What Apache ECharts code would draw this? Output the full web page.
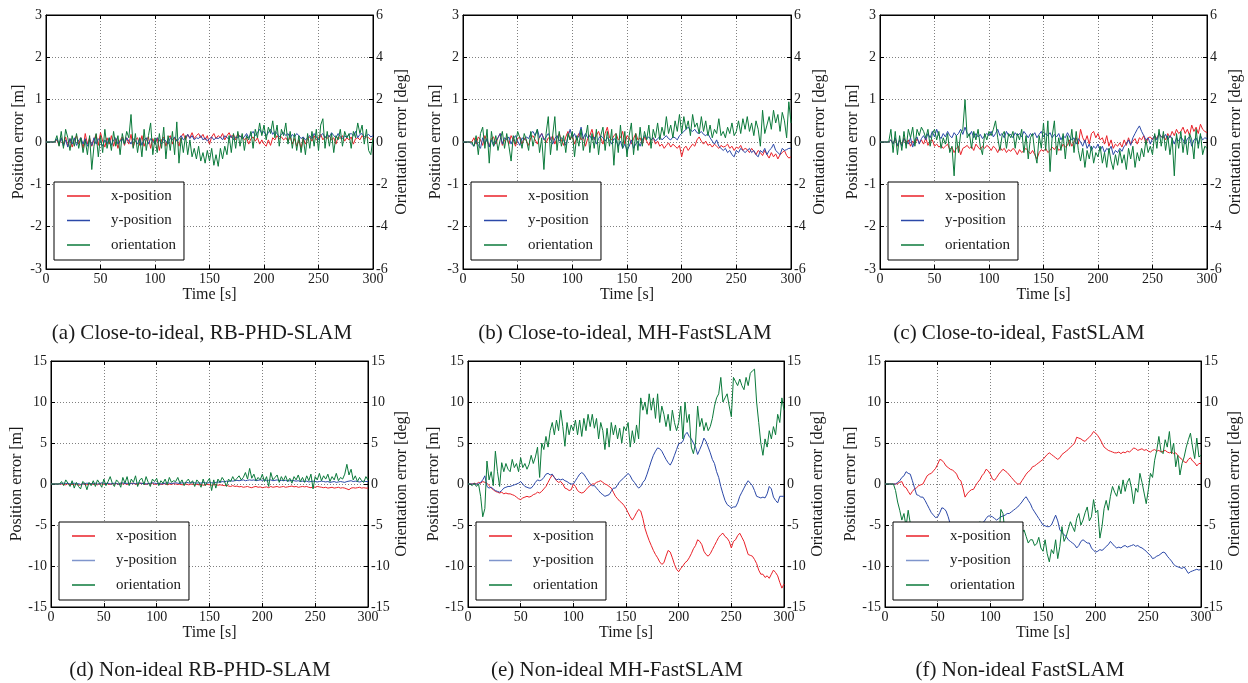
<!DOCTYPE html>
<html><head><meta charset="utf-8">
<script src="https://cdn.jsdelivr.net/npm/echarts@6/dist/echarts.min.js"></script>
<style>html,body{margin:0;padding:0;background:#fff}#c{width:1248px;height:683px}</style>
</head><body><div id="c"></div><script>
// ---- data (sampled every 2 s, t = 0..300) ----
const timeStep = 2;
const seriesNames = ['x-position', 'y-position', 'orientation'];
const captions = [
  '(a) Close-to-ideal, RB-PHD-SLAM',
  '(b) Close-to-ideal, MH-FastSLAM',
  '(c) Close-to-ideal, FastSLAM',
  '(d) Non-ideal RB-PHD-SLAM',
  '(e) Non-ideal MH-FastSLAM',
  '(f) Non-ideal FastSLAM'
];
const xLabelName = 'Time [s]';
const leftName = 'Position error [m]';
const rightName = 'Orientation error [deg]';

// (a) Close-to-ideal RB-PHD-SLAM
const aX = [0,0,0,0,0,0.05,-0.08,0.1,-0.05,0.12,
-0.1,0.08,-0.12,0.05,0.15,-0.05,0.1,-0.15,0.2,-0.05,
0.1,-0.1,0.05,0.18,-0.08,0.22,0.02,-0.12,0.1,-0.05,
0.15,-0.1,0.08,-0.15,0.05,0.12,-0.08,0.1,-0.05,0.18,
-0.12,0.05,0.1,-0.08,0.15,-0.1,0.05,0.12,-0.15,0.08,
-0.05,0.1,-0.2,0.05,0.12,-0.1,0.08,0.15,-0.05,0.1,
0.05,-0.1,0.12,0.2,0.05,0.18,0.1,0.22,0.08,0.15,
0.2,0.1,0.18,0.05,0.15,-0.05,0.12,0.2,0.08,0.15,
0.1,0.2,0.05,0.15,0.22,0.1,0.18,0.05,0.2,0.12,
0.15,0.05,0.1,-0.05,0.08,0.12,0.02,0.1,-0.05,0.05,
-0.05,-0.1,0.05,-0.08,0.1,0.05,0.15,0.08,0.12,0.05,
0.1,0.02,0.12,-0.05,0.08,-0.1,0.05,-0.15,0.1,-0.05,
0.08,0.12,0.02,0.15,0.05,0.1,0.18,0.05,0.12,0.08,
0.15,0.05,0.1,-0.05,0.12,0.08,0.15,0.02,0.1,0.05,
0.12,-0.05,0.08,0.1,0.05,0.15,0.08,0.12,0.1,0.05,
0.1];
const aY = [0,0,0,0,0,0.08,-0.05,0.1,-0.1,0.05,
-0.12,0.08,-0.05,0.1,-0.08,0.05,0.1,-0.05,0.08,-0.1,
0.05,-0.08,0.1,-0.05,0.08,0.02,-0.1,0.05,-0.05,0.1,
-0.08,0.05,0.1,-0.05,0.02,0.08,-0.05,0.1,0.02,-0.05,
0.08,0.02,-0.05,0.1,-0.08,0.05,0.1,-0.05,0.08,0.02,
-0.05,0.1,0.05,-0.05,0.08,0.02,-0.05,0.1,0.05,0.12,
0.02,0.08,0.15,0.05,0.1,0.18,0.08,0.15,0.05,0.1,
0.08,0.15,0.05,0.1,0.02,0.08,0.12,0.05,0.1,0.08,
0.12,0.05,0.15,0.1,0.08,0.15,0.05,0.12,0.1,0.15,
0.08,0.12,0.2,0.1,0.18,0.25,0.15,0.22,0.3,0.2,
0.25,0.15,0.22,0.3,0.18,0.25,0.2,0.12,0.18,0.22,
0.15,0.2,0.1,0.18,0.12,0.2,0.15,0.08,0.12,0.05,
0.1,0.15,0.08,0.2,0.12,0.05,0.15,0.2,0.1,0.18,
0.12,0.22,0.15,0.1,0.2,0.12,0.08,0.15,0.1,0.18,
0.2,0.15,0.25,0.1,0.18,0.2,0.12,0.15,0.18,0.12,
0.15];
const aO = [0,0,0,0,0,0.3,-0.2,0.5,-0.3,0.6,
0.2,-0.4,0.3,-0.2,0.4,-0.3,0.2,-0.5,0.1,-0.6,
0.3,-1.3,-0.2,0.4,-0.7,0.3,-0.5,0.6,-0.3,0.2,
-0.4,0.5,-0.2,0.3,-0.6,0.4,-0.1,0.5,0.2,1.3,
-0.3,0.4,-0.5,0.2,-0.7,0.6,-0.4,0.3,0.9,-0.6,
0.2,-0.5,0.4,-0.3,0.7,-0.8,0.3,-0.4,0.5,-0.6,
0.95,-1.0,0.2,-0.5,0.3,-0.6,0.1,-0.7,-0.3,-0.8,
-0.2,-0.9,-0.5,-1.0,-0.4,-0.9,-0.3,-1.1,-0.6,-1.15,
-0.3,-0.8,-0.2,-0.6,0.3,-0.5,0.4,-0.3,0.5,-0.2,
0.4,-0.4,0.3,0.1,0.5,-0.3,0.6,0.2,0.9,0.3,
0.8,0.1,0.7,0.4,1.0,0.2,0.8,-0.2,0.6,0.3,
0.9,-0.1,0.5,-0.3,0.4,-0.4,0.3,-0.5,0.2,-0.6,
0.4,-0.3,0.5,-0.2,0.6,-0.4,0.8,1.1,-0.3,0.5,
-0.2,0.4,-0.5,0.3,0.1,0.6,-0.2,0.5,0.2,0.4,
-0.3,0.5,0.2,0.9,0.4,0.8,-0.1,0.6,-0.4,-0.6,
0.2];

// (b) Close-to-ideal MH-FastSLAM
const bX = [0,0,0,0,0,0.1,-0.05,0.12,0.05,-0.08,
0.15,0.02,-0.1,0.08,0.12,-0.05,0.1,0.2,-0.08,0.05,
0.1,-0.05,0.15,0.05,-0.1,0.08,0.12,-0.05,0.1,0.02,
-0.08,0.1,0.15,0.05,-0.05,0.12,0.2,0.08,-0.02,0.1,
0.05,0.15,-0.05,0.1,0.2,0.05,-0.08,0.12,0.25,0.05,
0.15,-0.05,0.1,0.2,0.05,0.12,-0.1,0.08,0.15,0.3,
0.05,0.15,0.25,0.1,-0.05,0.2,0.35,0.1,0.05,0.15,
0.2,0.05,0.1,0.25,-0.05,0.15,0.1,-0.05,0.08,0.2,
0.05,0.1,-0.05,0.12,0.02,-0.08,0.05,0.1,-0.05,0.02,
-0.1,-0.05,-0.15,-0.08,-0.02,-0.12,-0.05,-0.1,-0.15,-0.08,
-0.35,-0.15,-0.1,-0.2,-0.12,-0.05,-0.1,0.05,0.12,0.02,
-0.05,0.02,-0.08,-0.05,-0.12,-0.05,-0.1,-0.15,-0.08,-0.12,
-0.1,-0.05,-0.15,-0.1,-0.2,-0.12,-0.15,-0.08,-0.2,-0.15,
-0.18,-0.25,-0.15,-0.22,-0.3,-0.2,-0.25,-0.32,-0.2,-0.3,
-0.38,-0.25,-0.35,-0.28,-0.4,-0.3,-0.25,-0.2,-0.32,-0.38,
-0.35];
const bY = [0,0,0,0,-0.05,-0.1,0.05,-0.08,-0.15,0.1,
-0.05,0.08,-0.12,0.05,-0.1,0.02,0.1,0.2,-0.05,0.1,
0.05,0.12,-0.05,0.08,0.15,0.02,-0.08,0.1,0.05,0.12,
0.08,0.2,0.25,0.15,0.3,0.1,0.2,0.05,0.12,0.2,
0.1,-0.05,0.08,0.15,0.02,0.1,0.05,-0.08,0.12,0.3,
0.1,0.2,0.05,0.15,0.35,0.08,0.2,0.1,0.15,0.05,
0.12,-0.05,0.08,0.15,0.1,0.02,0.1,0.05,-0.05,0.08,
0.05,-0.1,0.02,-0.15,-0.05,-0.2,-0.1,0.05,-0.15,-0.05,
0.02,-0.1,0.05,0.15,0.08,0.12,0.05,0.1,0.02,0.08,
0.12,0.05,0.1,0.15,0.08,0.05,0.12,0.1,0.05,0.15,
0.2,0.25,0.3,0.35,0.28,0.25,0.3,0.22,0.2,0.25,
0.18,0.15,0.2,0.1,0.02,-0.05,0.05,-0.1,-0.15,-0.2,
-0.15,-0.25,-0.2,-0.3,-0.35,-0.2,-0.25,-0.15,-0.2,-0.25,
-0.2,-0.15,-0.25,-0.2,-0.3,-0.35,-0.2,-0.25,-0.15,-0.3,
-0.2,-0.15,-0.05,-0.2,-0.25,-0.3,-0.15,-0.2,-0.18,-0.15,
-0.15];
const bO = [0,0,0,0,0,-0.2,0.3,-0.6,0.4,0.7,
-0.3,0.6,-1.0,0.5,-0.2,0.3,-0.4,0.1,0.5,-0.3,
0.4,-0.2,-0.9,0.3,-0.1,0.5,0.2,-0.3,0.4,0.1,
-0.4,0.5,-0.2,0.3,0.6,-0.5,0.2,-1.3,0.4,1.2,
-0.6,0.3,1.2,-0.4,0.5,-0.2,0.3,-0.5,0.4,0.1,
0.5,-0.7,0.3,-0.2,0.6,-0.4,0.2,0.8,-0.5,0.4,
-0.3,0.6,-0.6,0.3,0.7,-0.4,0.5,-0.2,0.6,-1.1,
0.4,-0.5,0.8,-0.3,0.5,-0.7,0.3,0.9,-0.6,0.4,
-0.4,0.7,-0.2,0.5,0.1,0.8,-0.3,0.6,0.2,0.9,
0.1,0.7,0.3,1.2,0.4,0.8,0.2,1.0,0.5,1.3,
0.4,1.2,0.6,1.0,0.3,1.3,0.7,0.9,0.4,1.2,
0.5,1.0,0.3,0.8,0.2,0.6,0.4,1.1,0.3,0.5,
0.2,0.7,0.4,0.9,0.3,0.5,1.0,0.4,1.1,0.6,
1.2,0.5,0.9,0.3,1.0,0.6,-0.2,1.5,0.4,0.8,
1.2,0.6,1.5,0.9,1.3,0.5,1.4,1.0,0.2,1.9,
0.9];

// (c) Close-to-ideal FastSLAM
const cX = [0,0,0,0,0,0.05,-0.05,0.08,-0.1,0.05,
-0.08,0.1,-0.05,0.05,-0.1,0.02,-0.05,0.08,-0.02,0.05,
-0.05,0.1,-0.08,0.02,0.05,-0.1,-0.05,-0.12,-0.08,-0.15,
-0.1,-0.05,-0.18,-0.12,-0.25,-0.15,-0.1,-0.3,-0.15,-0.12,
-0.08,-0.15,-0.1,-0.2,-0.05,-0.12,-0.18,-0.1,-0.15,-0.08,
-0.12,-0.2,-0.1,-0.15,-0.25,-0.12,-0.2,-0.15,-0.25,-0.18,
-0.22,-0.15,-0.2,-0.3,-0.18,-0.25,-0.2,-0.15,-0.22,-0.28,
-0.2,-0.3,-0.4,-0.25,-0.18,-0.22,-0.15,-0.25,-0.2,-0.12,
-0.18,-0.1,-0.2,-0.15,-0.05,-0.12,-0.08,0.05,-0.1,0.0,
0.1,-0.05,0.3,0.1,0.0,0.15,-0.05,0.2,0.25,0.1,
0.2,0.05,0.1,-0.05,0.15,-0.1,0.05,-0.15,-0.05,-0.1,
-0.02,-0.12,0.05,-0.08,0.1,-0.05,0.02,0.08,-0.05,0.1,
0.05,0.15,-0.05,0.1,0.12,0.05,0.15,0.08,0.2,0.12,
0.15,0.05,0.2,0.1,0.25,0.15,0.3,0.2,0.25,0.35,
0.2,0.3,0.15,0.4,0.25,0.35,0.2,0.42,0.3,0.25,
0.22];
const cY = [0,0,0,0,0,0.05,-0.05,0.1,-0.08,0.05,
-0.1,0.08,0.02,-0.05,0.1,-0.12,0.05,0.12,-0.05,0.08,
0.15,0.05,0.2,0.1,0.25,0.12,0.3,0.15,0.08,0.2,
0.12,0.25,0.15,0.1,0.22,0.15,0.2,0.3,0.18,0.35,
0.2,0.15,0.25,0.1,0.2,0.12,0.18,0.08,0.15,0.2,
0.15,0.25,0.12,0.2,0.3,0.15,0.2,0.1,0.25,0.15,
0.18,0.1,0.22,0.15,0.2,0.12,0.25,0.18,0.1,0.2,
0.15,0.22,0.1,0.18,0.25,0.12,0.2,0.15,0.22,0.1,
0.18,0.12,0.2,0.05,0.15,0.1,0.22,0.12,0.05,0.1,
-0.05,0.08,0.0,-0.1,0.05,-0.15,-0.05,-0.2,-0.1,-0.15,
-0.05,-0.2,-0.1,-0.25,-0.15,-0.2,-0.1,-0.3,-0.2,-0.25,
-0.15,-0.22,-0.1,-0.05,0.05,-0.08,0.1,0.2,0.3,0.38,
0.25,0.15,0.05,0.1,-0.05,0.08,0.15,0.05,0.2,0.12,
0.1,0.18,0.05,0.15,0.08,-0.05,0.1,0.02,0.12,0.05,
-0.05,0.08,0.12,-0.1,0.05,0.1,-0.05,0.15,0.05,0.1,
0.08];
const cO = [0,0,0,0,0,0.6,-0.5,0.5,-0.6,0.3,
-0.4,0.5,-0.3,0.6,0.2,0.7,-0.2,0.6,0.3,0.7,
0.5,0.2,0.6,-0.2,0.4,0.6,0.1,0.5,-0.3,0.2,
-0.1,0.4,-0.5,-0.2,-1.6,0.3,-0.5,0.4,0.6,2.0,
0.2,0.4,-0.3,0.5,0.1,0.6,-0.2,-0.6,0.4,0.1,
0.5,0.3,0.6,1.0,0.2,-0.4,0.3,0.5,-0.3,0.4,
0.2,0.5,-0.3,0.4,0.1,0.6,-0.5,0.3,-0.8,0.2,
0.4,-0.5,-1.0,0.3,-0.3,0.9,-0.4,1.0,-1.4,0.3,
1.0,-0.6,0.2,-0.4,0.4,-0.8,0.3,-0.2,0.6,-0.5,
0.5,-0.4,-0.9,-0.3,-1.2,-0.4,-0.8,-0.2,-1.0,-0.5,
-0.7,-0.2,-1.0,-0.5,-1.2,-0.3,-0.9,-1.3,-0.6,-1.1,
-0.4,-1.0,-0.6,-1.3,-0.3,-0.8,-0.2,-1.2,-0.5,-0.9,
-0.3,-0.7,0.1,-0.5,-0.2,-0.6,0.4,-0.3,0.6,-0.2,
0.5,-0.4,0.3,-0.6,0.2,-1.6,0.4,-0.3,0.5,-0.5,
0.3,-0.6,0.4,0.1,-0.8,0.6,-0.3,0.4,-0.6,-0.2,
-0.3];

// (d) Non-ideal RB-PHD-SLAM
const dX = [0,0,0,0,0,0,-0.05,-0.1,0.05,-0.1,
-0.05,-0.1,0.0,-0.15,-0.1,0.05,-0.05,-0.1,0.0,0.05,
-0.05,0.0,-0.1,0.05,0.0,-0.05,0.1,0.0,-0.05,0.05,
0.0,0.05,-0.05,0.1,0.0,0.05,-0.05,0.0,0.1,0.05,
0.0,-0.05,0.05,0.1,0.0,-0.05,0.05,0.0,0.1,-0.05,
0.0,0.05,-0.05,0.0,0.05,-0.1,0.0,-0.05,0.05,0.0,
-0.05,0.0,-0.1,-0.05,0.0,-0.1,-0.05,0.0,-0.1,-0.05,
-0.1,-0.05,-0.15,-0.1,-0.05,-0.1,-0.15,-0.1,-0.05,-0.15,
-0.1,-0.15,-0.2,-0.15,-0.25,-0.3,-0.2,-0.3,-0.25,-0.35,
-0.3,-0.4,-0.35,-0.3,-0.4,-0.45,-0.35,-0.3,-0.4,-0.35,
-0.45,-0.4,-0.35,-0.45,-0.3,-0.4,-0.35,-0.3,-0.4,-0.35,
-0.3,-0.4,-0.35,-0.3,-0.25,-0.35,-0.3,-0.4,-0.35,-0.3,
-0.35,-0.3,-0.4,-0.45,-0.35,-0.4,-0.3,-0.35,-0.4,-0.45,
-0.4,-0.5,-0.45,-0.4,-0.5,-0.45,-0.4,-0.5,-0.45,-0.5,
-0.6,-0.7,-0.5,-0.45,-0.5,-0.45,-0.4,-0.5,-0.45,-0.5,
-0.5];
const dY = [0,0,0,0,0,0.05,0.1,0.05,0.1,0.0,
0.05,0.1,0.0,0.05,-0.05,0.0,0.05,0.1,0.05,0.0,
0.05,0.1,0.0,0.05,0.15,0.1,0.05,0.1,0.0,0.05,
0.1,0.05,0.0,0.1,0.15,0.05,0.1,0.0,0.05,0.1,
0.05,0.1,0.15,0.05,0.1,0.0,0.05,0.1,0.15,0.1,
0.05,0.1,0.0,0.05,0.1,0.15,0.1,0.05,0.1,0.15,
0.1,0.05,0.15,0.1,0.2,0.15,0.1,0.2,0.15,0.1,
0.15,0.1,0.2,0.15,0.1,0.2,0.15,0.1,0.2,0.25,
0.2,0.3,0.25,0.35,0.3,0.4,0.35,0.4,0.45,0.4,
0.45,0.5,0.4,0.45,0.5,0.45,0.5,0.4,0.45,0.5,
0.45,0.5,0.4,0.45,0.5,0.4,0.45,0.5,0.4,0.45,
0.4,0.45,0.35,0.4,0.45,0.4,0.35,0.4,0.3,0.35,
0.3,0.35,0.25,0.3,0.35,0.3,0.25,0.3,0.35,0.3,
0.25,0.3,0.2,0.25,0.3,0.2,0.25,0.3,0.25,0.2,
0.3,0.35,0.4,0.3,0.35,0.3,0.25,0.3,0.35,0.3,
0.3];
const dO = [0,0,0,0,0,0.3,-0.2,0.5,0.1,-0.3,
0.4,-0.5,0.2,-0.3,-0.6,0.3,0.1,-0.7,0.2,-0.2,
0.4,-0.3,0.5,0.1,-0.4,0.6,-0.2,0.3,0.9,0.1,
-0.3,0.5,0.2,-0.4,0.8,0.1,0.9,-0.2,0.6,0.2,
1.0,-0.3,0.5,0.7,-0.1,0.9,0.2,-0.3,0.6,0.3,
0.7,-0.2,0.4,0.1,0.6,-0.1,0.8,0.2,0.4,0.3,
0.8,0.1,0.5,-0.2,0.3,0.6,0.1,0.4,-0.3,0.5,
0.2,-0.4,0.6,-0.2,0.3,0.7,-0.8,0.5,-0.5,0.6,
0.2,0.8,0.4,-0.3,0.6,0.3,0.9,0.4,0.7,1.0,
0.5,0.8,1.4,0.6,1.9,0.7,1.2,0.4,0.8,0.5,
1.2,0.3,0.9,-0.3,1.4,0.5,0.8,1.1,0.2,0.9,
0.4,1.0,0.3,0.7,0.1,0.9,0.5,1.1,0.3,0.8,
0.2,1.0,0.4,1.2,-0.6,0.9,0.5,1.3,0.4,1.0,
0.6,1.2,0.3,0.9,0.5,1.3,0.4,0.8,0.6,1.2,
2.4,1.1,1.8,0.5,1.0,0.3,0.8,0.4,0.2,0.9,
0.5];

// (e) Non-ideal MH-FastSLAM
const eX = [0,0,0,0.1,0,0.2,0.1,0.3,0.2,0.1,
-0.2,-0.5,-0.7,-0.9,-1.0,-1.1,-1.0,-1.2,-1.1,-1.2,
-1.2,-1.3,-1.4,-1.6,-1.8,-1.9,-1.7,-1.6,-1.5,-1.6,
-1.5,-1.3,-1.2,-1.0,-1.1,-0.9,-0.6,-0.3,0.2,0.7,
1.1,0.8,0.4,0.2,0.3,0.0,-0.5,-0.6,-0.8,-0.7,
0.0,-0.3,-0.8,-1.0,-1.1,-1.0,-0.7,-0.4,-0.2,0.0,
0.0,0.2,0.3,0.4,0.2,0.0,-0.1,-0.3,-0.5,-1.0,
-1.5,-1.8,-2.1,-2.3,-2.6,-3.0,-3.5,-4.0,-4.4,-4.0,
-3.5,-3.1,-3.3,-4.2,-5.4,-6.2,-6.9,-7.5,-8.1,-8.6,
-9.0,-9.5,-9.8,-9.6,-8.8,-8.1,-8.3,-9.0,-9.8,-10.4,
-10.7,-10.3,-10.0,-9.6,-9.4,-9.0,-8.5,-7.9,-7.5,-6.8,
-7.0,-7.4,-8.2,-8.6,-8.8,-8.5,-8.0,-7.5,-7.0,-6.5,
-6.2,-6.0,-6.4,-6.6,-7.0,-7.8,-7.0,-6.8,-6.3,-6.0,
-6.5,-7.0,-7.8,-8.6,-8.7,-8.8,-9.2,-9.7,-10.5,-11.0,
-11.0,-11.4,-11.2,-11.5,-11.0,-10.5,-10.8,-11.2,-12.0,-12.7,
-12.2];
const eY = [0,0,0,0,0,0,0.2,0.5,1.0,-0.3,
-0.5,-0.4,-0.6,-0.8,-0.9,-1.0,-0.8,-0.5,-0.4,-0.3,
-0.3,-0.2,-0.1,0.0,0.1,0.3,0.0,-0.3,-0.4,-0.5,
-0.5,-0.2,0.2,0.5,0.4,0.5,0.8,1.2,1.3,1.1,
1.2,0.8,0.5,0.6,0.5,0.6,0.4,0.3,0.1,0.0,
0.0,0.4,0.8,1.2,1.4,1.2,0.8,0.4,0.0,-0.2,
-0.2,-0.5,-0.8,-1.1,-1.3,-1.5,-1.4,-1.3,-0.9,-0.5,
-0.5,-0.1,0.3,0.5,0.8,1.0,1.3,1.0,0.5,0.2,
-0.2,-0.5,-0.3,0.2,0.5,1.2,2.0,2.8,3.5,4.0,
4.4,4.3,4.0,3.5,3.0,2.6,2.3,2.8,3.5,4.2,
4.9,5.0,5.2,6.0,6.3,5.8,5.5,5.0,4.5,3.6,
4.2,4.8,5.6,5.2,4.5,3.8,3.0,2.5,1.5,0.8,
-0.3,-1.2,-2.0,-2.5,-2.7,-2.9,-2.8,-2.8,-2.3,-1.5,
-1.0,-0.5,0.0,0.4,0.1,-0.2,-0.8,-1.5,-1.6,-1.7,
-1.6,-1.7,-1.2,-0.3,-0.6,-1.6,-2.0,-2.3,-1.5,-1.5,
-1.5];
const eO = [0,0,-0.2,0.1,-0.3,0,-1.5,-4.0,-3.0,2.8,
0.5,1.5,-0.2,4.0,1.5,-0.3,2.6,1.5,2.5,1.8,
1.5,3.0,2.0,2.5,1.5,3.2,2.0,2.5,1.8,2.4,
3.5,2.5,3.3,4.5,0.8,5.0,4.2,5.8,4.5,6.5,
7.5,6.0,7.8,6.5,9.0,7.0,4.6,7.5,6.0,7.2,
6.5,7.8,6.0,7.8,5.8,8.0,6.5,8.5,7.0,8.5,
6.8,8.0,5.5,7.5,6.5,4.2,6.8,4.5,7.5,6.0,
7.2,5.5,6.8,5.0,7.0,6.5,7.5,4.5,6.5,5.0,
7.2,5.5,10.5,9.0,10.0,8.5,11.0,9.0,10.5,8.0,
11.0,7.5,9.5,8.5,7.0,8.5,6.5,9.0,7.5,6.5,
7.5,9.5,5.5,10.0,7.5,8.5,4.5,3.7,5.0,9.5,
7.0,8.0,6.5,7.5,6.5,7.0,8.0,9.5,10.5,11.0,
13.0,10.0,10.5,11.0,9.5,8.2,13.0,12.5,12.0,12.8,
12.0,11.5,13.0,12.0,13.5,13.8,14.0,10.0,7.5,5.0,
3.5,5.5,4.5,6.5,5.5,7.0,6.0,8.5,7.5,10.5,
9.0];

// (f) Non-ideal FastSLAM
const fX = [0,0,0,0,0,0,0.05,0.2,0.3,-0.3,
-0.45,-0.9,-1.3,-0.9,-0.6,-0.45,-0.2,-0.1,0.0,0.5,
1.0,1.2,1.3,1.6,1.9,2.4,3.0,2.9,2.6,2.2,
2.0,1.8,1.7,1.5,1.2,0.6,0.4,-0.5,-1.6,-1.2,
-0.9,-0.7,-0.65,-0.2,0.2,0.5,1.0,1.3,1.8,1.6,
1.2,0.6,0.45,0.8,1.2,1.5,1.8,1.6,1.4,1.1,
0.8,0.5,0.2,0.0,0.0,0.4,0.8,1.2,1.5,1.7,
2.1,2.2,2.4,2.6,2.8,3.0,3.3,3.6,3.8,3.6,
3.4,3.2,3.0,3.2,3.6,3.8,4.0,4.2,4.5,4.7,
5.0,5.7,5.6,5.5,5.3,5.2,5.5,5.7,6.0,6.4,
6.2,5.9,5.5,5.0,4.5,4.3,4.1,4.0,3.9,3.8,
3.8,3.9,3.7,3.9,3.8,4.0,3.9,4.1,4.4,4.3,
4.1,4.2,4.3,4.1,4.2,4.0,3.9,4.1,4.2,4.0,
4.1,3.9,4.0,4.1,3.9,3.8,3.9,3.7,3.8,3.5,
3.2,3.0,2.7,2.6,3.0,3.2,2.8,2.6,2.2,2.5,
2.5];
const fY = [0,0,0,0,0,0,0.2,0.4,0.8,1.0,
1.5,1.3,1.2,0.4,-0.45,-1.3,-1.4,-1.6,-1.6,-2.0,
-2.5,-3.0,-3.5,-3.8,-4.1,-4.0,-3.5,-2.9,-3.0,-3.3,
-4.0,-4.9,-5.2,-5.0,-5.4,-5.2,-5.0,-5.3,-5.1,-4.9,
-5.0,-4.8,-5.1,-4.9,-4.7,-5.0,-4.8,-4.6,-4.2,-3.9,
-3.9,-4.0,-4.2,-4.4,-4.2,-4.0,-3.9,-3.8,-3.6,-3.6,
-3.4,-3.2,-3.0,-2.8,-2.5,-2.2,-1.8,-1.55,-2.0,-2.4,
-3.0,-3.4,-3.8,-4.2,-4.6,-5.0,-5.1,-5.2,-5.2,-5.0,
-4.4,-3.8,-4.5,-5.6,-5.9,-6.2,-6.4,-6.8,-7.0,-7.2,
-7.4,-7.8,-7.5,-7.0,-6.8,-7.0,-7.2,-7.2,-7.8,-8.1,
-8.3,-8.2,-8.0,-8.1,-7.9,-7.6,-7.4,-7.0,-7.3,-7.6,
-7.8,-7.7,-7.8,-7.6,-7.5,-7.7,-7.6,-7.5,-7.4,-7.6,
-7.5,-7.7,-7.8,-8.0,-8.2,-8.5,-8.7,-9.1,-9.0,-8.8,
-8.7,-8.5,-8.3,-8.4,-8.8,-9.1,-9.4,-9.8,-10.0,-10.1,
-10.2,-10.3,-10.1,-10.5,-10.9,-10.7,-10.6,-10.5,-10.4,-10.5,
-10.4];
const fO = [0,0,0,0,0,-0.8,-2.2,-3.2,-4.4,-3.6,
-5.2,-3.2,-4.8,-5.5,-6.0,-5.2,-6.5,-5.8,-7.0,-6.2,
-5.5,-6.8,-6.0,-7.2,-5.8,-6.5,-7.5,-6.2,-5.5,-6.8,
-6.0,-7.0,-6.5,-5.8,-7.2,-6.4,-5.5,-6.8,-7.5,-6.0,
-6.8,-5.8,-7.0,-6.2,-5.0,-4.6,-6.5,-5.5,-7.0,-6.0,
-5.5,-6.5,-7.2,-5.8,-6.8,-3.1,-3.6,-6.0,-7.0,-5.5,
-6.5,-7.8,-5.5,-5.2,-7.6,-6.0,-5.6,-6.4,-7.2,-6.8,
-6.8,-7.5,-7.3,-6.5,-7.8,-8.2,-6.8,-8.5,-9.5,-8.0,
-8.5,-6.8,-9.1,-7.6,-5.2,-7.0,-6.4,-5.5,-4.6,-5.2,
-5.8,-4.2,-3.6,-5.0,-4.4,-3.5,-2.8,-4.5,-4.0,-1.9,
-3.5,-3.2,-6.6,-5.2,-3.0,-2.0,-3.2,-1.5,-0.3,-1.0,
-1.5,-0.2,-1.2,0.5,-0.9,0.2,0.7,-0.5,-2.4,-0.5,
-1.0,1.3,0.2,-1.1,-2.4,-0.7,1.3,0.8,2.9,4.1,
5.8,4.0,3.7,5.4,4.5,6.4,3.7,5.0,2.1,3.5,
1.1,2.5,3.3,4.5,5.4,6.2,4.5,3.1,5.6,3.3,
3.5];

// ---- layout / style ----
const FONT = 'Liberation Serif';
const TXT = '#1a1a1a';
const COLORS = ['#ea2129', '#2b48a8', '#0b7a3b'];
const panels = [
  {d:[aX,aY,aO], g:{left:46, top:15, width:327, height:254}, pos:[-3,3,1], ori:[-6,6,2], gapL:17, gapR:21, legTop:182, cap:[202,333], thickY:false},
  {d:[bX,bY,bO], g:{left:463,top:15, width:328, height:254}, pos:[-3,3,1], ori:[-6,6,2], gapL:17, gapR:21, legTop:182, cap:[625,333], thickY:false},
  {d:[cX,cY,cO], g:{left:880,top:15, width:327, height:254}, pos:[-3,3,1], ori:[-6,6,2], gapL:17, gapR:21, legTop:182, cap:[1019,333], thickY:false},
  {d:[dX,dY,dO], g:{left:51, top:361,width:317, height:246}, pos:[-15,15,5], ori:[-15,15,5], gapL:23, gapR:24, legTop:522, cap:[200,670], thickY:true},
  {d:[eX,eY,eO], g:{left:468,top:361,width:316, height:246}, pos:[-15,15,5], ori:[-15,15,5], gapL:23, gapR:24, legTop:522, cap:[617,670], thickY:true},
  {d:[fX,fY,fO], g:{left:885,top:361,width:316, height:246}, pos:[-15,15,5], ori:[-15,15,5], gapL:23, gapR:24, legTop:522, cap:[1020,670], thickY:true}
];

const toPairs = arr => arr.map((v, i) => [i * timeStep, v]);
const grid = [], xAxis = [], yAxis = [], series = [], legend = [], graphic = [];
const split = {show:true, lineStyle:{color:'#808080', width:1, type:[1,2]}};
const axLine = {show:true, onZero:false, lineStyle:{color:'#000', width:1}};
const tick = {show:true, inside:true, length:4, lineStyle:{color:'#000'}};
const lbl = {fontFamily:FONT, fontSize:14, color:TXT};
const nameStyle = {fontFamily:FONT, fontSize:16, color:TXT};

panels.forEach((p, k) => {
  grid.push(Object.assign({show:true, borderColor:'#000', borderWidth:1, backgroundColor:'transparent', containLabel:false}, p.g));
  xAxis.push({gridIndex:k, type:'value', position:'bottom', min:0, max:300, interval:50,
    name:xLabelName, nameLocation:'middle', nameGap:16, nameTextStyle:nameStyle,
    axisLine:axLine, axisTick:tick, axisLabel:Object.assign({margin:3}, lbl), splitLine:split});
  xAxis.push({gridIndex:k, type:'value', position:'top', min:0, max:300, interval:50,
    axisLine:axLine, axisTick:tick, axisLabel:{show:false}, splitLine:{show:false}});
  yAxis.push({gridIndex:k, type:'value', position:'left', min:p.pos[0], max:p.pos[1], interval:p.pos[2],
    name:leftName, nameLocation:'middle', nameGap:p.gapL, nameRotate:90, nameTextStyle:nameStyle,
    axisLine:axLine, axisTick:tick, axisLabel:Object.assign({margin:4}, lbl), splitLine:split});
  yAxis.push({gridIndex:k, type:'value', position:'right', min:p.ori[0], max:p.ori[1], interval:p.ori[2],
    name:rightName, nameLocation:'middle', nameGap:p.gapR, nameRotate:90, nameTextStyle:nameStyle,
    axisLine:axLine, axisTick:tick, axisLabel:Object.assign({margin:3}, lbl), splitLine:{show:false}});
  p.d.forEach((arr, s) => {
    series.push({type:'line', name:seriesNames[s], xAxisIndex:2*k, yAxisIndex: s === 2 ? 2*k+1 : 2*k,
      data:toPairs(arr), symbol:'none', showSymbol:false, smooth:false, silent:true,
      lineStyle:{width:1, color:COLORS[s]}, itemStyle:{color:COLORS[s]}, z: 2});
  });
  const legData = seriesNames.map((n, s) =>
    (s === 1 && p.thickY) ? {name:n, itemStyle:{color:'#7f95cc'}} : {name:n});
  legend.push({orient:'vertical', left:p.g.left + 8, top:p.legTop, data:legData, z:10,
    icon:'rect', itemWidth:23, itemHeight:1.5, itemGap:9.5, selectedMode:false,
    padding:[6.5, 8, 7.5, 13], borderColor:'#000', borderWidth:1, borderRadius:0, backgroundColor:'#fff',
    textStyle:{fontFamily:FONT, fontSize:15, color:TXT, lineHeight:15, padding:[0,0,0,16]}});
  graphic.push({type:'text', x:p.cap[0], y:p.cap[1], silent:true,
    style:{text:captions[k], font:'21px "' + FONT + '"', fill:TXT, textAlign:'center', textVerticalAlign:'middle'}});
});

const chart = echarts.init(document.getElementById('c'), null, {renderer:'canvas'});
chart.setOption({animation:false, backgroundColor:'#fff', grid, xAxis, yAxis, series, legend, graphic});
</script></body></html>
